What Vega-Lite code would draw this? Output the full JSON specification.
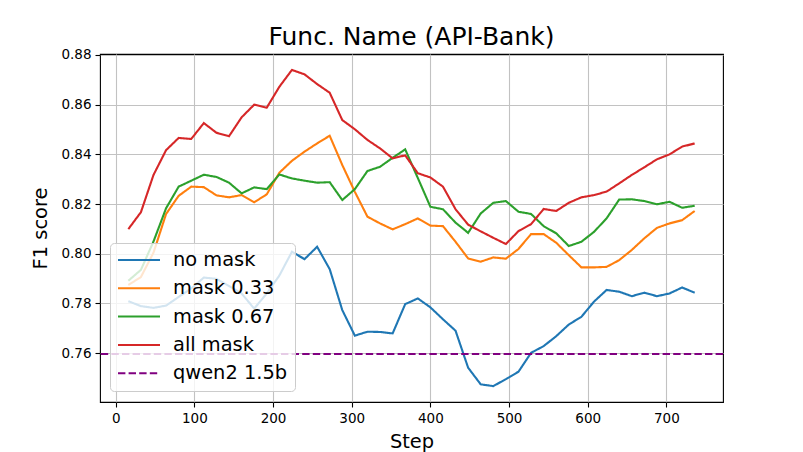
{
  "$schema": "https://vega.github.io/schema/vega-lite/v6.json",
  "width": 623,
  "height": 348,
  "autosize": "none",
  "padding": {"left": 100, "top": 54, "right": 80, "bottom": 50},
  "background": "white",
  "title": {"text": "Func. Name (API-Bank)", "fontSize": 25, "font": "DejaVu Sans", "fontWeight": "normal", "color": "black", "offset": -2},
  "config": {
    "view": {"stroke": "black", "strokeWidth": 1.1},
    "axis": {
      "domain": false,
      "grid": true,
      "gridColor": "#c2c2c2",
      "gridWidth": 1.1,
      "tickColor": "black",
      "tickWidth": 1.1,
      "tickSize": 5,
      "labelFont": "DejaVu Sans",
      "labelFontSize": 13.5,
      "labelColor": "black",
      "labelPadding": 4,
      "titleFont": "DejaVu Sans",
      "titleFontSize": 19.4,
      "titleFontWeight": "normal",
      "titleColor": "black"
    },
    "legend": {
      "orient": "none",
      "legendX": 10,
      "legendY": 189,
      "title": null,
      "labelFont": "DejaVu Sans",
      "labelFontSize": 19.4,
      "labelColor": "black",
      "symbolType": "stroke",
      "symbolSize": 1764,
      "symbolStrokeWidth": 2,
      "labelOffset": 12,
      "clipHeight": 20,
      "rowPadding": 8.3,
      "padding": 7,
      "fillColor": "rgba(255,255,255,0.8)",
      "strokeColor": "#cccccc",
      "cornerRadius": 4
    }
  },
  "datasets": {
    "runs": [
      {"series": "no mask", "step": 16, "score": 0.7809},
      {"series": "no mask", "step": 32, "score": 0.7789},
      {"series": "no mask", "step": 48, "score": 0.7782},
      {"series": "no mask", "step": 64, "score": 0.7791},
      {"series": "no mask", "step": 80, "score": 0.7826},
      {"series": "no mask", "step": 96, "score": 0.7860},
      {"series": "no mask", "step": 112, "score": 0.7904},
      {"series": "no mask", "step": 128, "score": 0.7899},
      {"series": "no mask", "step": 144, "score": 0.7870},
      {"series": "no mask", "step": 160, "score": 0.7840},
      {"series": "no mask", "step": 176, "score": 0.7779},
      {"series": "no mask", "step": 192, "score": 0.7840},
      {"series": "no mask", "step": 208, "score": 0.7912},
      {"series": "no mask", "step": 224, "score": 0.8008},
      {"series": "no mask", "step": 240, "score": 0.7978},
      {"series": "no mask", "step": 256, "score": 0.8028},
      {"series": "no mask", "step": 272, "score": 0.7938},
      {"series": "no mask", "step": 288, "score": 0.7773},
      {"series": "no mask", "step": 304, "score": 0.7670},
      {"series": "no mask", "step": 320, "score": 0.7686},
      {"series": "no mask", "step": 336, "score": 0.7685},
      {"series": "no mask", "step": 352, "score": 0.7679},
      {"series": "no mask", "step": 368, "score": 0.7797},
      {"series": "no mask", "step": 384, "score": 0.7820},
      {"series": "no mask", "step": 400, "score": 0.7784},
      {"series": "no mask", "step": 416, "score": 0.7736},
      {"series": "no mask", "step": 432, "score": 0.7690},
      {"series": "no mask", "step": 448, "score": 0.7541},
      {"series": "no mask", "step": 464, "score": 0.7474},
      {"series": "no mask", "step": 480, "score": 0.7467},
      {"series": "no mask", "step": 496, "score": 0.7495},
      {"series": "no mask", "step": 512, "score": 0.7525},
      {"series": "no mask", "step": 528, "score": 0.7601},
      {"series": "no mask", "step": 544, "score": 0.7628},
      {"series": "no mask", "step": 560, "score": 0.7668},
      {"series": "no mask", "step": 576, "score": 0.7715},
      {"series": "no mask", "step": 592, "score": 0.7746},
      {"series": "no mask", "step": 608, "score": 0.7807},
      {"series": "no mask", "step": 624, "score": 0.7854},
      {"series": "no mask", "step": 640, "score": 0.7847},
      {"series": "no mask", "step": 656, "score": 0.7829},
      {"series": "no mask", "step": 672, "score": 0.7843},
      {"series": "no mask", "step": 688, "score": 0.7829},
      {"series": "no mask", "step": 704, "score": 0.7840},
      {"series": "no mask", "step": 720, "score": 0.7864},
      {"series": "no mask", "step": 736, "score": 0.7843},
      {"series": "mask 0.33", "step": 16, "score": 0.7874},
      {"series": "mask 0.33", "step": 32, "score": 0.7906},
      {"series": "mask 0.33", "step": 48, "score": 0.8004},
      {"series": "mask 0.33", "step": 64, "score": 0.8160},
      {"series": "mask 0.33", "step": 80, "score": 0.8233},
      {"series": "mask 0.33", "step": 96, "score": 0.8270},
      {"series": "mask 0.33", "step": 112, "score": 0.8268},
      {"series": "mask 0.33", "step": 128, "score": 0.8235},
      {"series": "mask 0.33", "step": 144, "score": 0.8227},
      {"series": "mask 0.33", "step": 160, "score": 0.8236},
      {"series": "mask 0.33", "step": 176, "score": 0.8207},
      {"series": "mask 0.33", "step": 192, "score": 0.8239},
      {"series": "mask 0.33", "step": 208, "score": 0.8326},
      {"series": "mask 0.33", "step": 224, "score": 0.8374},
      {"series": "mask 0.33", "step": 240, "score": 0.8411},
      {"series": "mask 0.33", "step": 256, "score": 0.8444},
      {"series": "mask 0.33", "step": 272, "score": 0.8475},
      {"series": "mask 0.33", "step": 288, "score": 0.8357},
      {"series": "mask 0.33", "step": 304, "score": 0.8249},
      {"series": "mask 0.33", "step": 320, "score": 0.8149},
      {"series": "mask 0.33", "step": 336, "score": 0.8122},
      {"series": "mask 0.33", "step": 352, "score": 0.8098},
      {"series": "mask 0.33", "step": 368, "score": 0.8119},
      {"series": "mask 0.33", "step": 384, "score": 0.8142},
      {"series": "mask 0.33", "step": 400, "score": 0.8113},
      {"series": "mask 0.33", "step": 416, "score": 0.8111},
      {"series": "mask 0.33", "step": 432, "score": 0.8048},
      {"series": "mask 0.33", "step": 448, "score": 0.7981},
      {"series": "mask 0.33", "step": 464, "score": 0.7968},
      {"series": "mask 0.33", "step": 480, "score": 0.7985},
      {"series": "mask 0.33", "step": 496, "score": 0.7980},
      {"series": "mask 0.33", "step": 512, "score": 0.8019},
      {"series": "mask 0.33", "step": 528, "score": 0.8079},
      {"series": "mask 0.33", "step": 544, "score": 0.8079},
      {"series": "mask 0.33", "step": 560, "score": 0.8044},
      {"series": "mask 0.33", "step": 576, "score": 0.7994},
      {"series": "mask 0.33", "step": 592, "score": 0.7945},
      {"series": "mask 0.33", "step": 608, "score": 0.7945},
      {"series": "mask 0.33", "step": 624, "score": 0.7947},
      {"series": "mask 0.33", "step": 640, "score": 0.7974},
      {"series": "mask 0.33", "step": 656, "score": 0.8015},
      {"series": "mask 0.33", "step": 672, "score": 0.8062},
      {"series": "mask 0.33", "step": 688, "score": 0.8104},
      {"series": "mask 0.33", "step": 704, "score": 0.8122},
      {"series": "mask 0.33", "step": 720, "score": 0.8135},
      {"series": "mask 0.33", "step": 736, "score": 0.8172},
      {"series": "mask 0.67", "step": 16, "score": 0.7891},
      {"series": "mask 0.67", "step": 32, "score": 0.7935},
      {"series": "mask 0.67", "step": 48, "score": 0.8049},
      {"series": "mask 0.67", "step": 64, "score": 0.8183},
      {"series": "mask 0.67", "step": 80, "score": 0.8270},
      {"series": "mask 0.67", "step": 96, "score": 0.8294},
      {"series": "mask 0.67", "step": 112, "score": 0.8318},
      {"series": "mask 0.67", "step": 128, "score": 0.8309},
      {"series": "mask 0.67", "step": 144, "score": 0.8286},
      {"series": "mask 0.67", "step": 160, "score": 0.8243},
      {"series": "mask 0.67", "step": 176, "score": 0.8267},
      {"series": "mask 0.67", "step": 192, "score": 0.8260},
      {"series": "mask 0.67", "step": 208, "score": 0.8319},
      {"series": "mask 0.67", "step": 224, "score": 0.8303},
      {"series": "mask 0.67", "step": 240, "score": 0.8294},
      {"series": "mask 0.67", "step": 256, "score": 0.8286},
      {"series": "mask 0.67", "step": 272, "score": 0.8288},
      {"series": "mask 0.67", "step": 288, "score": 0.8216},
      {"series": "mask 0.67", "step": 304, "score": 0.8260},
      {"series": "mask 0.67", "step": 320, "score": 0.8333},
      {"series": "mask 0.67", "step": 336, "score": 0.8350},
      {"series": "mask 0.67", "step": 352, "score": 0.8386},
      {"series": "mask 0.67", "step": 368, "score": 0.8420},
      {"series": "mask 0.67", "step": 384, "score": 0.8305},
      {"series": "mask 0.67", "step": 400, "score": 0.8189},
      {"series": "mask 0.67", "step": 416, "score": 0.8179},
      {"series": "mask 0.67", "step": 432, "score": 0.8125},
      {"series": "mask 0.67", "step": 448, "score": 0.8084},
      {"series": "mask 0.67", "step": 464, "score": 0.8162},
      {"series": "mask 0.67", "step": 480, "score": 0.8205},
      {"series": "mask 0.67", "step": 496, "score": 0.8212},
      {"series": "mask 0.67", "step": 512, "score": 0.8169},
      {"series": "mask 0.67", "step": 528, "score": 0.8160},
      {"series": "mask 0.67", "step": 544, "score": 0.8111},
      {"series": "mask 0.67", "step": 560, "score": 0.8082},
      {"series": "mask 0.67", "step": 576, "score": 0.8031},
      {"series": "mask 0.67", "step": 592, "score": 0.8048},
      {"series": "mask 0.67", "step": 608, "score": 0.8088},
      {"series": "mask 0.67", "step": 624, "score": 0.8142},
      {"series": "mask 0.67", "step": 640, "score": 0.8218},
      {"series": "mask 0.67", "step": 656, "score": 0.8219},
      {"series": "mask 0.67", "step": 672, "score": 0.8212},
      {"series": "mask 0.67", "step": 688, "score": 0.8199},
      {"series": "mask 0.67", "step": 704, "score": 0.8209},
      {"series": "mask 0.67", "step": 720, "score": 0.8185},
      {"series": "mask 0.67", "step": 736, "score": 0.8193},
      {"series": "all mask", "step": 16, "score": 0.8099},
      {"series": "all mask", "step": 32, "score": 0.8167},
      {"series": "all mask", "step": 48, "score": 0.8317},
      {"series": "all mask", "step": 64, "score": 0.8417},
      {"series": "all mask", "step": 80, "score": 0.8466},
      {"series": "all mask", "step": 96, "score": 0.8462},
      {"series": "all mask", "step": 112, "score": 0.8526},
      {"series": "all mask", "step": 128, "score": 0.8487},
      {"series": "all mask", "step": 144, "score": 0.8473},
      {"series": "all mask", "step": 160, "score": 0.8549},
      {"series": "all mask", "step": 176, "score": 0.8600},
      {"series": "all mask", "step": 192, "score": 0.8588},
      {"series": "all mask", "step": 208, "score": 0.8672},
      {"series": "all mask", "step": 224, "score": 0.8740},
      {"series": "all mask", "step": 240, "score": 0.8722},
      {"series": "all mask", "step": 256, "score": 0.8683},
      {"series": "all mask", "step": 272, "score": 0.8648},
      {"series": "all mask", "step": 288, "score": 0.8538},
      {"series": "all mask", "step": 304, "score": 0.8501},
      {"series": "all mask", "step": 320, "score": 0.8458},
      {"series": "all mask", "step": 336, "score": 0.8424},
      {"series": "all mask", "step": 352, "score": 0.8384},
      {"series": "all mask", "step": 368, "score": 0.8396},
      {"series": "all mask", "step": 384, "score": 0.8324},
      {"series": "all mask", "step": 400, "score": 0.8307},
      {"series": "all mask", "step": 416, "score": 0.8270},
      {"series": "all mask", "step": 432, "score": 0.8179},
      {"series": "all mask", "step": 448, "score": 0.8117},
      {"series": "all mask", "step": 464, "score": 0.8090},
      {"series": "all mask", "step": 480, "score": 0.8064},
      {"series": "all mask", "step": 496, "score": 0.8039},
      {"series": "all mask", "step": 512, "score": 0.8091},
      {"series": "all mask", "step": 528, "score": 0.8119},
      {"series": "all mask", "step": 544, "score": 0.8180},
      {"series": "all mask", "step": 560, "score": 0.8172},
      {"series": "all mask", "step": 576, "score": 0.8205},
      {"series": "all mask", "step": 592, "score": 0.8227},
      {"series": "all mask", "step": 608, "score": 0.8236},
      {"series": "all mask", "step": 624, "score": 0.8250},
      {"series": "all mask", "step": 640, "score": 0.8283},
      {"series": "all mask", "step": 656, "score": 0.8317},
      {"series": "all mask", "step": 672, "score": 0.8348},
      {"series": "all mask", "step": 688, "score": 0.8380},
      {"series": "all mask", "step": 704, "score": 0.8400},
      {"series": "all mask", "step": 720, "score": 0.8431},
      {"series": "all mask", "step": 736, "score": 0.8444}
    ],
    "baseline": [
      {"series": "qwen2 1.5b", "score": 0.7596}
    ]
  },
  "layer": [
    {
      "data": {"name": "runs"},
      "mark": {"type": "line", "strokeWidth": 2.1, "clip": true},
      "encoding": {
        "x": {
          "field": "step", "type": "quantitative",
          "scale": {"domain": [-20, 772], "nice": false, "zero": false},
          "axis": {"values": [0, 100, 200, 300, 400, 500, 600, 700], "title": "Step", "titlePadding": 8}
        },
        "y": {
          "field": "score", "type": "quantitative",
          "scale": {"domain": [0.7403, 0.8804], "nice": false, "zero": false},
          "axis": {"values": [0.76, 0.78, 0.8, 0.82, 0.84, 0.86, 0.88], "format": ".2f", "title": "F1 score", "titlePadding": 10}
        },
        "color": {
          "field": "series", "type": "nominal",
          "scale": {
            "domain": ["no mask", "mask 0.33", "mask 0.67", "all mask", "qwen2 1.5b"],
            "range": ["#1f77b4", "#ff7f0e", "#2ca02c", "#d62728", "#800080"]
          },
          "legend": {"title": null}
        },
        "strokeDash": {
          "field": "series", "type": "nominal",
          "scale": {
            "domain": ["no mask", "mask 0.33", "mask 0.67", "all mask", "qwen2 1.5b"],
            "range": [[1, 0], [1, 0], [1, 0], [1, 0], [7.4, 3.2]]
          },
          "legend": {"title": null}
        }
      }
    },
    {
      "data": {"name": "baseline"},
      "mark": {"type": "rule", "strokeWidth": 2.1},
      "encoding": {
        "y": {"field": "score", "type": "quantitative"},
        "color": {"field": "series", "type": "nominal"},
        "strokeDash": {"field": "series", "type": "nominal"}
      }
    }
  ]
}
